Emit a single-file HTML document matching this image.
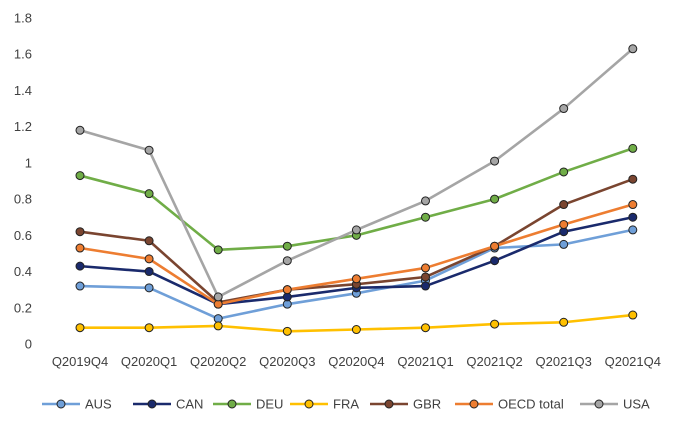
<!DOCTYPE html>
<html><head><meta charset="utf-8"><style>
body{margin:0;background:#fff;}
svg text{font-family:"Liberation Sans",sans-serif;font-size:13px;fill:#404040;}
</style></head><body>
<svg id="chart" width="681" height="421" viewBox="0 0 681 421" xmlns="http://www.w3.org/2000/svg">
<g id="yaxis"></g>
<g id="xaxis"></g>
<g id="series"></g>
<g id="legend"></g>
</svg>
<script>
const categories=["Q2019Q4","Q2020Q1","Q2020Q2","Q2020Q3","Q2020Q4","Q2021Q1","Q2021Q2","Q2021Q3","Q2021Q4"];
const yTicks=[0,0.2,0.4,0.6,0.8,1,1.2,1.4,1.6,1.8];
const seriesNames=["AUS","CAN","DEU","FRA","GBR","OECD total","USA"];
const seriesColors=["#6f9fd8","#1a2a6c","#70ad47","#ffc000","#7a4530","#ed7d31","#a5a5a5"];
const AUS=[0.32,0.31,0.14,0.22,0.28,0.35,0.53,0.55,0.63];
const CAN=[0.43,0.40,0.22,0.26,0.31,0.32,0.46,0.62,0.70];
const DEU=[0.93,0.83,0.52,0.54,0.60,0.70,0.80,0.95,1.08];
const FRA=[0.09,0.09,0.10,0.07,0.08,0.09,0.11,0.12,0.16];
const GBR=[0.62,0.57,0.23,0.30,0.33,0.37,0.54,0.77,0.91];
const OECD=[0.53,0.47,0.22,0.30,0.36,0.42,0.54,0.66,0.77];
const USA=[1.18,1.07,0.26,0.46,0.63,0.79,1.01,1.30,1.63];
const seriesValues=[AUS,CAN,DEU,FRA,GBR,OECD,USA];
const NS="http://www.w3.org/2000/svg";
const x0=80,dx=69.1,yBase=344,yTop=18,yMax=1.8;
const xs=i=>x0+i*dx;
const ys=v=>yBase-(v/yMax)*(yBase-yTop);
function mk(t,attrs,parent){const e=document.createElementNS(NS,t);for(const k in attrs)e.setAttribute(k,attrs[k]);parent.appendChild(e);return e;}
const ya=document.getElementById('yaxis'),xa=document.getElementById('xaxis'),sg=document.getElementById('series'),lg=document.getElementById('legend');
yTicks.forEach(v=>{const t=mk('text',{x:32,y:ys(v)+4.5,'text-anchor':'end'},ya);t.textContent=String(v);

});
categories.forEach((c,i)=>{const t=mk('text',{x:xs(i),y:366,'text-anchor':'middle'},xa);t.textContent=c;

});
function darker(hex){const n=parseInt(hex.slice(1),16);const r=(n>>16)*0.35,g=((n>>8)&255)*0.35,b=(n&255)*0.35;return `rgb(${r|0},${g|0},${b|0})`;}
seriesValues.forEach((vals,s)=>{
 const g=mk('g',{},sg);
 
 
 const pl=mk('polyline',{points:vals.map((v,i)=>xs(i)+','+ys(v)).join(' '),fill:'none',stroke:seriesColors[s],'stroke-width':2.6,'stroke-linejoin':'round'},g);
 
 
 vals.forEach((v,i)=>{const c=mk('circle',{cx:xs(i),cy:ys(v),r:4,fill:seriesColors[s],stroke:'#222','stroke-width':1},g);
 
 });
});
const legX=[42,133,213,290,370,455,580];
seriesNames.forEach((n,s)=>{
 const g=mk('g',{},lg);
 
 
 const x=legX[s];
 mk('line',{x1:x,y1:404,x2:x+38,y2:404,stroke:seriesColors[s],'stroke-width':2.6},g);
 mk('circle',{cx:x+19,cy:404,r:4,fill:seriesColors[s],stroke:'#222','stroke-width':1},g);
 const t=mk('text',{x:x+43,y:408.5},g);t.textContent=n;
});
</script>
</body></html>
